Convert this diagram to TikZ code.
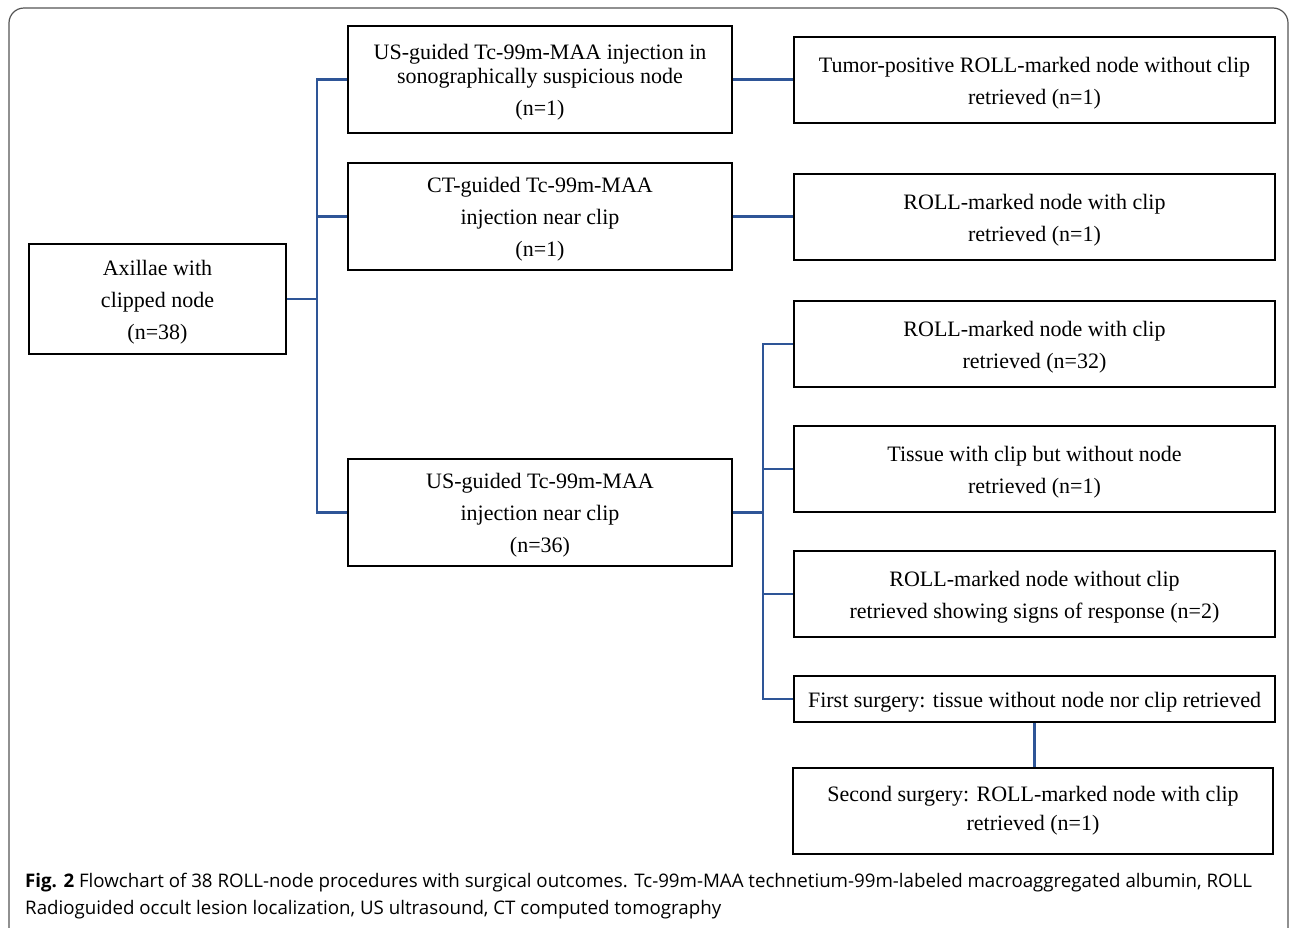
\documentclass[tikz,border=0pt]{standalone}
\usepackage{fontspec}
\setmainfont{Liberation Serif}
\newfontfamily\capfont{Open Sans}
\usetikzlibrary{positioning,calc}
\definecolor{ink}{HTML}{000000}
\definecolor{linkblue}{HTML}{2E5597}
\definecolor{frame}{HTML}{555555}
\newcommand{\up}{\rule{0pt}{21.5pt}}
\tikzset{
  every node/.style={text=ink},
  box/.style={draw=ink,line width=1.5pt,fill=white,align=center,inner sep=0pt,
    minimum width=384,minimum height=107,font=\fontsize{22}{32}\selectfont},
  outbox/.style={box,minimum width=481,minimum height=86},
  link/.style={draw=linkblue,line width=2.6pt},
  caption/.style={font=\capfont\fontsize{18.7}{27}\selectfont,align=left,inner sep=0pt},
}

\begin{document}
\begin{tikzpicture}[x=1pt,y=-1pt]
\useasboundingbox (0,0) rectangle (1292,927);
\begin{scope}
\clip (0,0) rectangle (1292,927);
\draw[frame,line width=1.2pt,rounded corners=15] (9,8) rectangle (1288,980);
\end{scope}

% left: source and the three injection routes
\node[box,minimum width=257,minimum height=110] (axil) at (157.5,299) {\up Axillae with\\ clipped node\\ (n=38)};
\node[box] (usa) at (540,79.5) {\up US-guided Tc-99m-MAA injection in\\[-8pt] sonographically suspicious node\\ (n=1)};
\node[box] (ctg) at (540,216.5) {\up CT-guided Tc-99m-MAA\\ injection near clip\\ (n=1)};
\node[box] (usc) at (540,512.5) {\up US-guided Tc-99m-MAA\\ injection near clip\\ (n=36)};

% right: outcomes
\node[outbox] (r1) at (1034.5,80) {\up Tumor-positive ROLL-marked node without clip\\ retrieved (n=1)};
\node[outbox] (r2) at (1034.5,217) {\up ROLL-marked node with clip\\ retrieved (n=1)};
\node[outbox] (r3) at (1034.5,344) {\up ROLL-marked node with clip\\ retrieved (n=32)};
\node[outbox] (r4) at (1034.5,469) {\up Tissue with clip but without node\\ retrieved (n=1)};
\node[outbox] (r5) at (1034.5,594) {\up ROLL-marked node without clip\\ retrieved showing signs of response (n=2)};
\node[outbox,minimum height=46] (r6) at (1034.5,699) {\up First surgery: tissue without node nor clip retrieved};
\node[outbox,minimum width=480] (r7) at (1033,811) {Second surgery: ROLL-marked node with clip\\[-3pt] retrieved (n=1)};

% connectors
\coordinate (trunkL) at (317,299);
\coordinate (trunkR) at (763,512.5);
\draw[link] (axil.east) -- (trunkL);
\draw[link] (trunkL) |- (usa.west);
\draw[link] (trunkL) |- (ctg.west);
\draw[link] (trunkL) |- (usc.west);
\draw[link] (usa.east) -- (usa.east -| r1.west);
\draw[link] (ctg.east) -- (ctg.east -| r2.west);
\draw[link] (usc.east) -- (trunkR);
\foreach \r in {r3,r4,r5,r6}
  \draw[link] (trunkR) |- (\r.west);
\draw[link] (r6.south) -- (r6.south |- r7.north);

% caption
\node[caption,anchor=base west] (cap) at (25,914) {\textbf{Fig. 2} Flowchart of 38 ROLL-node procedures with surgical outcomes. Tc-99m-MAA technetium-99m-labeled macroaggregated albumin, ROLL\\ Radioguided occult lesion localization, US ultrasound, CT computed tomography};
\end{tikzpicture}
\end{document}
